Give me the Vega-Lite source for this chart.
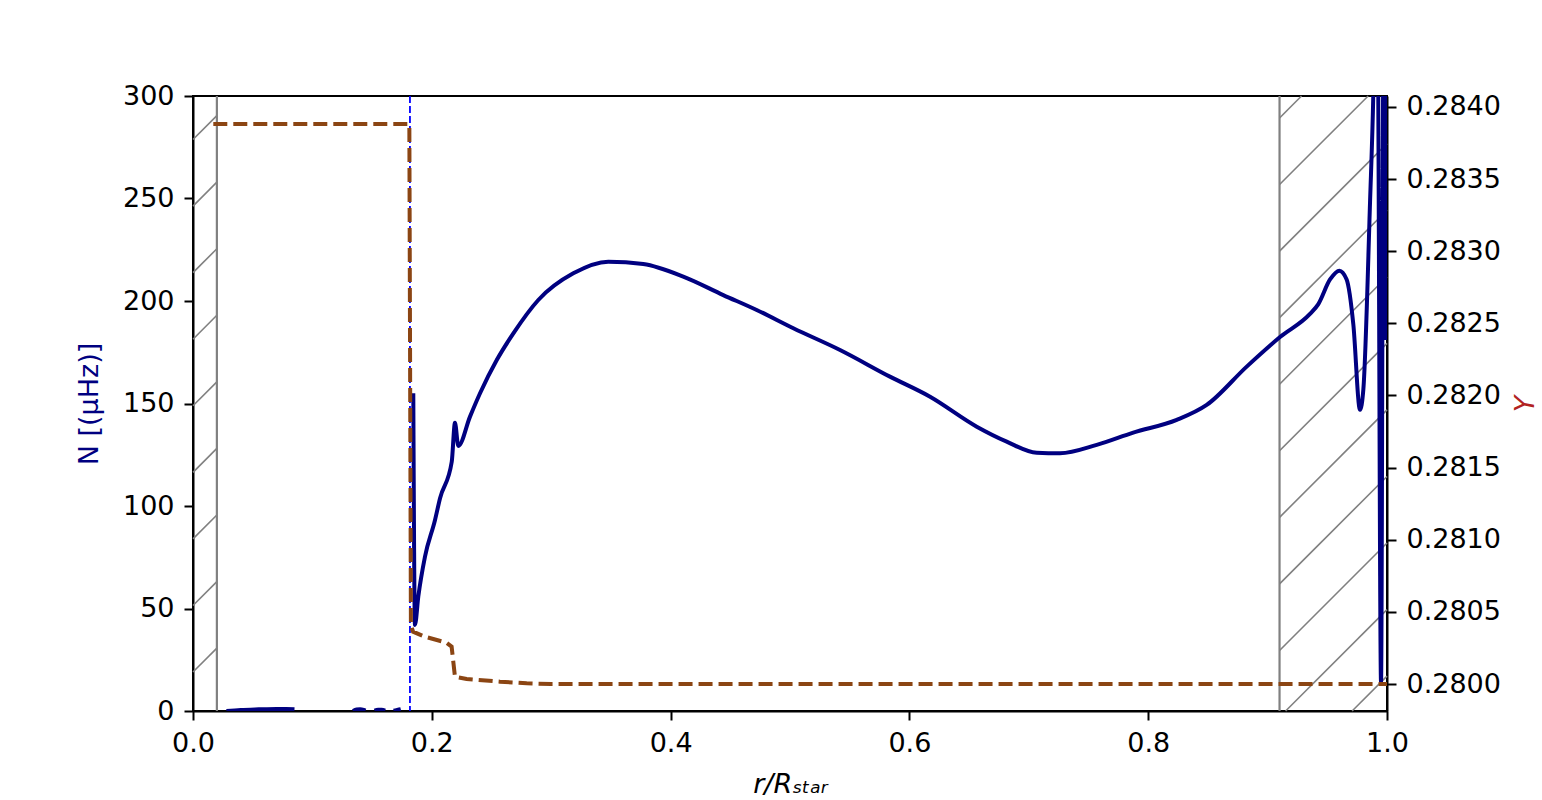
{
  "$schema": "https://vega.github.io/schema/vega-lite/v6.json",
  "width": 1194,
  "height": 615,
  "autosize": {"type": "none"},
  "padding": {"left": 193, "top": 96, "right": 155, "bottom": 89},
  "background": "white",
  "config": {
    "view": {"stroke": "black", "strokeWidth": 2},
    "axis": {
      "domainColor": "black", "domainWidth": 2,
      "tickColor": "black", "tickWidth": 2, "tickSize": 9,
      "labelFont": "DejaVu Sans", "labelFontSize": 27, "labelColor": "black", "labelPadding": 10,
      "titleFont": "DejaVu Sans", "titleFontSize": 27, "titleFontWeight": "normal", "titleColor": "black",
      "grid": false, "labelFlush": false, "labelOverlap": false
    }
  },
  "datasets": {
    "hatch": [
      {"x": 0, "y": 19.02, "x2": 0.02, "y2": 30.67},
      {"x": 0, "y": 51.49, "x2": 0.02, "y2": 63.14},
      {"x": 0, "y": 83.96, "x2": 0.02, "y2": 95.61},
      {"x": 0, "y": 116.43, "x2": 0.02, "y2": 128.08},
      {"x": 0, "y": 148.9, "x2": 0.02, "y2": 160.55},
      {"x": 0, "y": 181.37, "x2": 0.02, "y2": 193.02},
      {"x": 0, "y": 213.84, "x2": 0.02, "y2": 225.49},
      {"x": 0, "y": 246.31, "x2": 0.02, "y2": 257.96},
      {"x": 0, "y": 278.78, "x2": 0.02, "y2": 290.43},
      {"x": 0.91, "y": 289.28, "x2": 0.9284, "y2": 300},
      {"x": 0.91, "y": 256.81, "x2": 0.9842, "y2": 300},
      {"x": 0.91, "y": 224.34, "x2": 1, "y2": 276.76},
      {"x": 0.91, "y": 191.87, "x2": 1, "y2": 244.29},
      {"x": 0.91, "y": 159.4, "x2": 1, "y2": 211.82},
      {"x": 0.91, "y": 126.93, "x2": 1, "y2": 179.35},
      {"x": 0.91, "y": 94.46, "x2": 1, "y2": 146.88},
      {"x": 0.91, "y": 61.99, "x2": 1, "y2": 114.41},
      {"x": 0.91, "y": 29.52, "x2": 1, "y2": 81.94},
      {"x": 0.9151, "y": 0, "x2": 1, "y2": 49.47},
      {"x": 0.9708, "y": 0, "x2": 1, "y2": 17.0}
    ],
    "bounds": [{"r": 0.02}, {"r": 0.91}],
    "core": [{"r": 0.1817}],
    "N": [
      {"seg": "a", "r": 0.028, "N": 0.0},
      {"seg": "a", "r": 0.04, "N": 0.5},
      {"seg": "a", "r": 0.055, "N": 0.8},
      {"seg": "a", "r": 0.07, "N": 1.0},
      {"seg": "a", "r": 0.078, "N": 1.0},
      {"seg": "a", "r": 0.085, "N": 0.9},
      {"seg": "b1", "r": 0.134, "N": 0.0},
      {"seg": "b1", "r": 0.137, "N": 0.7},
      {"seg": "b1", "r": 0.14, "N": 0.8},
      {"seg": "b1", "r": 0.143, "N": 0.5},
      {"seg": "b1", "r": 0.1445, "N": 0.2},
      {"seg": "b2", "r": 0.152, "N": 0.2},
      {"seg": "b2", "r": 0.155, "N": 0.6},
      {"seg": "b2", "r": 0.158, "N": 0.6},
      {"seg": "b2", "r": 0.161, "N": 0.2},
      {"seg": "b3", "r": 0.168, "N": 0.1},
      {"seg": "b3", "r": 0.171, "N": 0.5},
      {"seg": "b3", "r": 0.174, "N": 0.9},
      {"seg": "m", "r": 0.1845, "N": 155.0},
      {"seg": "m", "r": 0.1859, "N": 42.0},
      {"seg": "m", "r": 0.1887, "N": 55.8},
      {"seg": "m", "r": 0.1943, "N": 75.3},
      {"seg": "m", "r": 0.2027, "N": 93.2},
      {"seg": "m", "r": 0.2069, "N": 103.8},
      {"seg": "m", "r": 0.2167, "N": 121.6},
      {"seg": "m", "r": 0.2194, "N": 140.6},
      {"seg": "m", "r": 0.2222, "N": 129.3},
      {"seg": "m", "r": 0.232, "N": 143.6},
      {"seg": "m", "r": 0.2404, "N": 155.0},
      {"seg": "m", "r": 0.2544, "N": 171.2},
      {"seg": "m", "r": 0.2683, "N": 184.2},
      {"seg": "m", "r": 0.2892, "N": 200.5},
      {"seg": "m", "r": 0.3185, "N": 213.5},
      {"seg": "m", "r": 0.3478, "N": 219.2},
      {"seg": "m", "r": 0.3771, "N": 218.0},
      {"seg": "m", "r": 0.4106, "N": 211.9},
      {"seg": "m", "r": 0.4441, "N": 202.9},
      {"seg": "m", "r": 0.4721, "N": 195.6},
      {"seg": "m", "r": 0.5028, "N": 186.7},
      {"seg": "m", "r": 0.5419, "N": 176.1},
      {"seg": "m", "r": 0.5837, "N": 163.1},
      {"seg": "m", "r": 0.6173, "N": 153.3},
      {"seg": "m", "r": 0.6564, "N": 138.7},
      {"seg": "m", "r": 0.6815, "N": 131.4},
      {"seg": "m", "r": 0.7066, "N": 126.0},
      {"seg": "m", "r": 0.7261, "N": 125.7},
      {"seg": "m", "r": 0.7569, "N": 129.8},
      {"seg": "m", "r": 0.7875, "N": 135.8},
      {"seg": "m", "r": 0.8239, "N": 142.0},
      {"seg": "m", "r": 0.849, "N": 149.3},
      {"seg": "m", "r": 0.8825, "N": 168.0},
      {"seg": "m", "r": 0.9104, "N": 182.4},
      {"seg": "m", "r": 0.9355, "N": 193.7},
      {"seg": "m", "r": 0.9425, "N": 198.5},
      {"seg": "m", "r": 0.9523, "N": 210.5},
      {"seg": "m", "r": 0.9601, "N": 214.8},
      {"seg": "m", "r": 0.9662, "N": 210.5},
      {"seg": "m", "r": 0.9718, "N": 188.6},
      {"seg": "m", "r": 0.9774, "N": 146.9},
      {"seg": "m", "r": 0.9802, "N": 156.9},
      {"seg": "m", "r": 0.9858, "N": 248.3},
      {"seg": "m", "r": 0.9885, "N": 299.9},
      {"seg": "m", "r": 0.99, "N": 345},
      {"seg": "m", "r": 0.992, "N": 345},
      {"seg": "m", "r": 0.995, "N": 14},
      {"seg": "m", "r": 0.9972, "N": 345},
      {"seg": "m", "r": 0.998, "N": 345},
      {"seg": "m", "r": 0.9992, "N": 181}
    ],
    "Y": [
      {"r": 0.017, "Y": 0.283882},
      {"r": 0.1812, "Y": 0.283882},
      {"r": 0.1825, "Y": 0.280409},
      {"r": 0.1843, "Y": 0.280363},
      {"r": 0.1942, "Y": 0.280328},
      {"r": 0.2124, "Y": 0.280286},
      {"r": 0.2166, "Y": 0.280259},
      {"r": 0.2194, "Y": 0.280051},
      {"r": 0.2292, "Y": 0.280035},
      {"r": 0.2571, "Y": 0.280016},
      {"r": 0.2795, "Y": 0.280005},
      {"r": 0.3, "Y": 0.28},
      {"r": 1.0, "Y": 0.28}
    ]
  },
  "layer": [
    {
      "layer": [
        {
          "data": {"name": "hatch"},
          "mark": {"type": "rule", "color": "#808080", "strokeWidth": 1.6},
          "encoding": {
            "x": {"field": "x", "type": "quantitative", "scale": {"domain": [0, 1], "nice": false, "zero": false},
                  "axis": {"values": [0, 0.2, 0.4, 0.6, 0.8, 1.0], "format": ".1f", "title": "r/Rₛₜₐᵣ", "titleFontStyle": "italic", "titlePadding": 15}},
            "x2": {"field": "x2"},
            "y": {"field": "y", "type": "quantitative", "scale": {"domain": [0, 300], "nice": false},
                  "axis": {"values": [0, 50, 100, 150, 200, 250, 300], "format": "d", "title": "N [(μHz)]", "titleColor": "#000080", "titlePadding": 19}},
            "y2": {"field": "y2"}
          }
        },
        {
          "data": {"name": "bounds"},
          "mark": {"type": "rule", "color": "#808080", "strokeWidth": 2.2},
          "encoding": {
            "x": {"field": "r", "type": "quantitative"}
          }
        },
        {
          "data": {"name": "N"},
          "mark": {"type": "line", "color": "#000080", "strokeWidth": 4, "clip": true, "interpolate": "monotone"},
          "encoding": {
            "x": {"field": "r", "type": "quantitative"},
            "y": {"field": "N", "type": "quantitative"},
            "detail": {"field": "seg"}
          }
        },
        {
          "data": {"name": "core"},
          "mark": {"type": "rule", "color": "#0000FF", "strokeWidth": 1.8, "strokeDash": [7, 3]},
          "encoding": {
            "x": {"field": "r", "type": "quantitative"}
          }
        }
      ]
    },
    {
      "data": {"name": "Y"},
      "mark": {"type": "line", "color": "#8B4513", "strokeWidth": 4, "strokeDash": [14, 6], "clip": true},
      "encoding": {
        "x": {"field": "r", "type": "quantitative"},
        "y": {"field": "Y", "type": "quantitative", "scale": {"domain": [0.279813, 0.284076], "nice": false, "zero": false},
              "axis": {"orient": "right", "values": [0.28, 0.2805, 0.281, 0.2815, 0.282, 0.2825, 0.283, 0.2835, 0.284], "format": ".4f",
                       "title": "Y", "titleColor": "#B22222", "titleFontStyle": "italic", "titleAngle": 270, "titleBaseline": "top", "titlePadding": 12}}
      }
    }
  ],
  "resolve": {"scale": {"y": "independent"}}
}
